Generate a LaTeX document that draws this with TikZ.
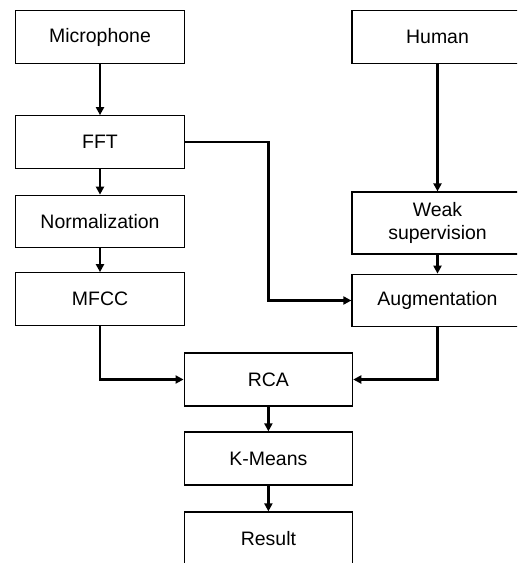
\documentclass[tikz,border=0pt]{standalone}
\usepackage{fontspec}
\setmainfont{Liberation Sans}
\usetikzlibrary{arrows.meta}

\tikzset{
    block/.style={draw, line width=0.9pt, fill=white, minimum width=126.4pt, minimum height=39.4pt, inner sep=2pt, align=center, font=\fontsize{14.6}{17}\selectfont},
    flow/.style={-{Triangle[length=6pt,width=6pt]}, line width=1.8pt}
}

\begin{document}
\begin{tikzpicture}[x=0.75pt, y=-0.75pt]
        \clip (0,0) rectangle (517,563);

        \node[block] (mic) at (100,37) {Microphone};
        \node[block] (fft) at (100,142) {FFT};
        \node[block] (norm) at (100,221.5) {Normalization};
        \node[block] (mfcc) at (100,299) {MFCC};

        \node[block, minimum width=128.3pt] (human) at (437.5,37) {Human};
        \node[block, minimum width=128.3pt, minimum height=46.5pt] (weak) at (437.5,223) {Weak\\supervision};
        \node[block, minimum width=128.3pt] (aug) at (437.5,300.5) {Augmentation};

        \node[block, minimum height=39.8pt] (rca) at (268.4,379.5) {RCA};
        \node[block, minimum height=39.8pt] (kmeans) at (268.4,458.5) {K-Means};
        \node[block, minimum height=39.8pt] (result) at (268.4,538.5) {Result};

        \draw[flow] (mic) -- (fft);
        \draw[flow] (fft) -- (norm);
        \draw[flow] (norm) -- (mfcc);
        \draw[flow] (human) -- (weak);
        \draw[flow] (weak) -- (aug);
        \draw[flow] (fft.east) -- (fft.east -| rca) |- (aug.west);
        \draw[flow] (mfcc) |- (rca);
        \draw[flow] (aug) |- (rca);
        \draw[flow] (rca) -- (kmeans);
        \draw[flow] (kmeans) -- (result);
    \end{tikzpicture}
\end{document}
